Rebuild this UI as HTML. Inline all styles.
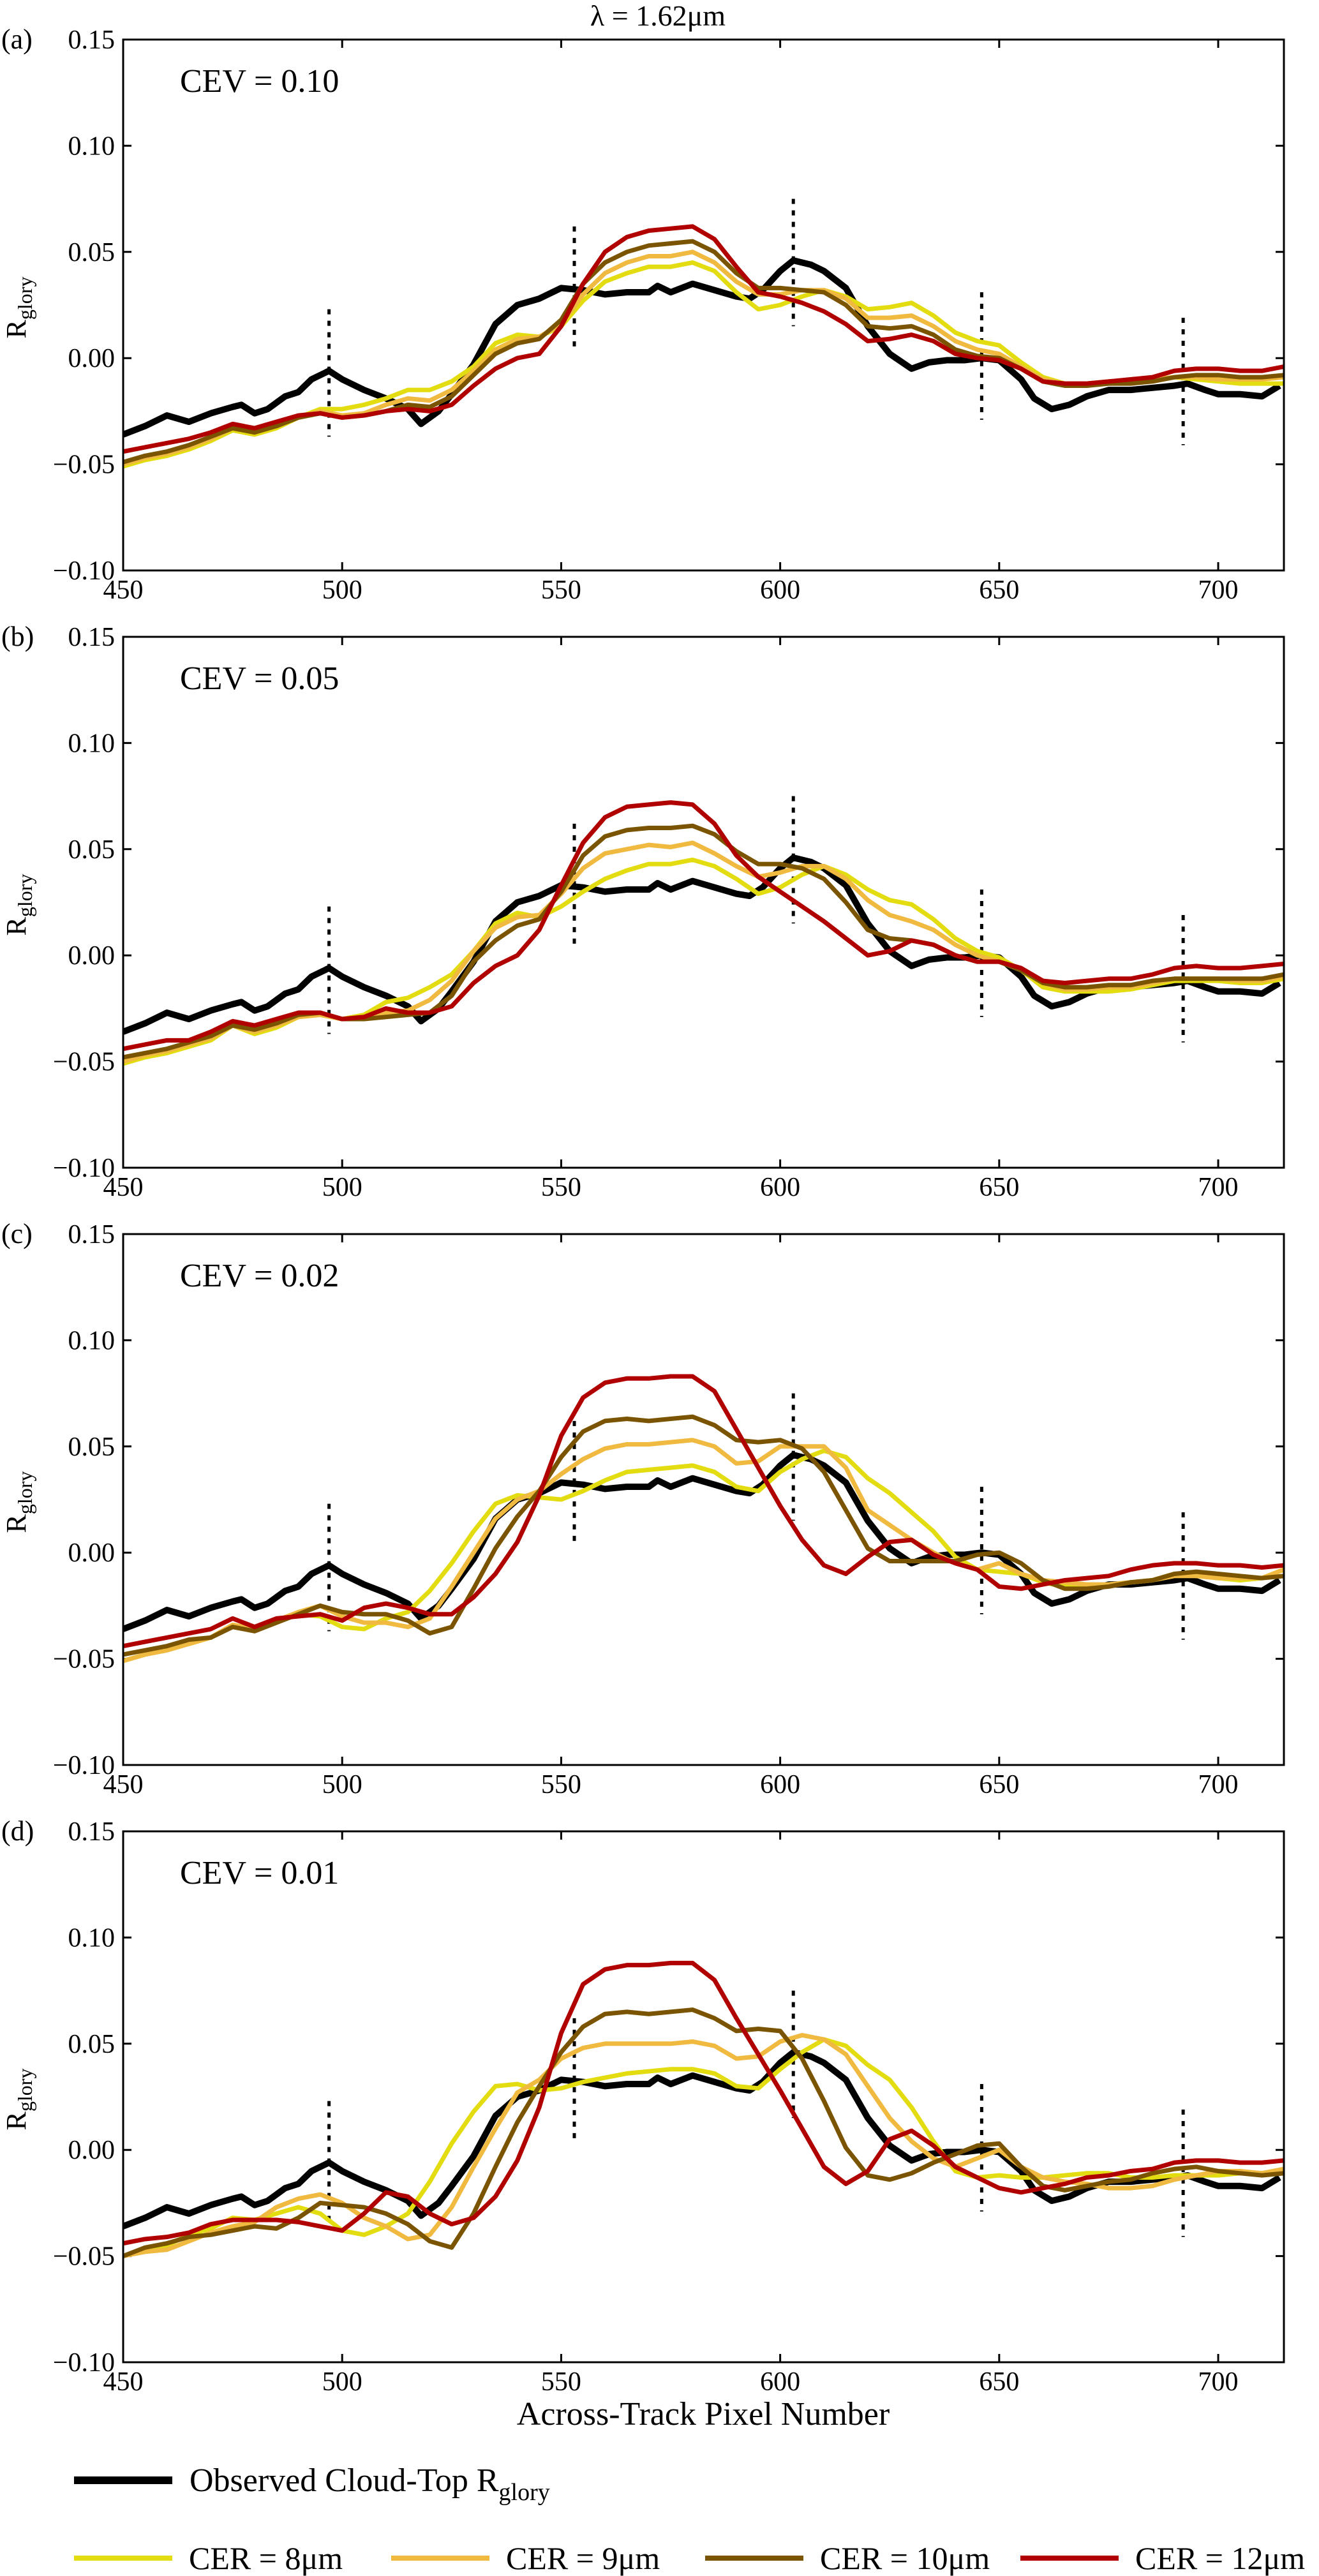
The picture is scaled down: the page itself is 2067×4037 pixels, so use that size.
<!DOCTYPE html>
<html><head><meta charset="utf-8"><style>
html,body{margin:0;padding:0;background:#fff;}
svg{display:block;font-family:"Liberation Serif",serif;}
</style></head><body>
<svg id="fig" width="2067" height="4037" viewBox="0 0 2067 4037" xmlns="http://www.w3.org/2000/svg"></svg>
<script>
const gridX = [450,455,460,465,470,475,480,485,490,495,500,505,510,515,520,525,530,535,540,545,550,555,560,565,570,575,580,585,590,595,600,605,610,615,620,625,630,635,640,645,650,655,660,665,670,675,680,685,690,695,700,705,710,715];
const obsX = [450,455,460,465,470,475,477,480,483,487,490,493,497,500,505,510,515,518,522,525,530,535,540,545,550,555,560,565,570,572,575,580,585,590,593,596,600,603,607,610,615,620,625,630,634,638,642,646,650,655,658,662,666,670,675,680,685,690,693,697,700,705,710,714];
const obsY = [-0.036,-0.032,-0.027,-0.030,-0.026,-0.023,-0.022,-0.026,-0.024,-0.018,-0.016,-0.010,-0.006,-0.010,-0.015,-0.019,-0.024,-0.031,-0.025,-0.017,-0.003,0.016,0.025,0.028,0.033,0.032,0.030,0.031,0.031,0.034,0.031,0.035,0.032,0.029,0.028,0.032,0.041,0.046,0.044,0.041,0.033,0.015,0.002,-0.005,-0.002,-0.001,-0.001,0.000,-0.001,-0.010,-0.019,-0.024,-0.022,-0.018,-0.015,-0.015,-0.014,-0.013,-0.012,-0.015,-0.017,-0.017,-0.018,-0.013];
const panelLabels = ["(a)","(b)","(c)","(d)"];
const cevValues = ["0.10","0.05","0.02","0.01"];
const cerLabels = ["8","9","10","12"];
const yTicks = [0.15,0.10,0.05,0.00,-0.05,-0.10];
const yTickLabels = ["0.15","0.10","0.05","0.00","\u22120.05","\u22120.10"];
const xTicks = [450,500,550,600,650,700];
const markerX = [497,553,603,646,692];
const markerTop = [0.023,0.062,0.075,0.031,0.019];
const markerBottom = [-0.037,0.003,0.015,-0.029,-0.041];

const aCER8 = [-.051,-.048,-.046,-.043,-.039,-.034,-.036,-.033,-.028,-.024,-.024,-.022,-.019,-.015,-.015,-.011,-.004,.007,.011,.010,.015,.027,.036,.040,.043,.043,.045,.041,.031,.023,.025,.029,.032,.029,.023,.024,.026,.020,.012,.008,.006,-.002,-.009,-.012,-.012,-.011,-.011,-.010,-.009,-.010,-.011,-.012,-.012,-.012];
const aCER9 = [-.050,-.047,-.045,-.042,-.038,-.033,-.035,-.032,-.028,-.025,-.027,-.026,-.022,-.019,-.020,-.015,-.006,.004,.009,.010,.016,.030,.040,.045,.048,.048,.050,.045,.036,.030,.030,.032,.032,.028,.019,.019,.020,.015,.008,.004,.002,-.004,-.010,-.012,-.012,-.011,-.011,-.010,-.009,-.009,-.010,-.010,-.010,-.009];
const aCER10 = [-.049,-.046,-.044,-.041,-.037,-.033,-.035,-.032,-.028,-.026,-.028,-.027,-.025,-.022,-.023,-.018,-.008,.002,.007,.009,.018,.035,.045,.050,.053,.054,.055,.050,.040,.033,.033,.032,.031,.025,.015,.014,.015,.011,.004,.001,.000,-.005,-.011,-.013,-.013,-.012,-.012,-.011,-.009,-.008,-.008,-.009,-.009,-.008];
const aCER12 = [-.044,-.042,-.040,-.038,-.035,-.031,-.033,-.030,-.027,-.026,-.028,-.027,-.025,-.024,-.025,-.022,-.013,-.005,.000,.002,.015,.035,.050,.057,.060,.061,.062,.056,.043,.031,.029,.026,.022,.016,.008,.009,.011,.008,.002,.000,-.001,-.005,-.011,-.012,-.012,-.011,-.010,-.009,-.006,-.005,-.005,-.006,-.006,-.004];
const bCER8 = [-.051,-.048,-.046,-.043,-.040,-.033,-.037,-.034,-.029,-.028,-.030,-.028,-.022,-.020,-.015,-.009,.002,.015,.020,.018,.023,.030,.036,.040,.043,.043,.045,.042,.036,.029,.032,.038,.042,.038,.031,.026,.024,.017,.008,.002,-.001,-.007,-.015,-.017,-.017,-.017,-.016,-.014,-.012,-.012,-.012,-.013,-.013,-.011];
const bCER9 = [-.050,-.047,-.045,-.042,-.039,-.033,-.036,-.033,-.029,-.028,-.030,-.029,-.027,-.026,-.021,-.012,.002,.013,.018,.019,.029,.041,.048,.050,.052,.051,.053,.048,.042,.037,.039,.042,.042,.036,.026,.019,.016,.012,.005,.000,-.003,-.007,-.013,-.016,-.016,-.015,-.015,-.013,-.011,-.011,-.011,-.012,-.012,-.010];
const bCER10 = [-.048,-.046,-.044,-.041,-.038,-.033,-.035,-.032,-.028,-.027,-.030,-.030,-.029,-.028,-.027,-.019,-.003,.007,.014,.017,.030,.047,.056,.059,.060,.060,.061,.057,.049,.043,.043,.041,.036,.025,.012,.008,.007,.005,.000,-.003,-.003,-.007,-.013,-.015,-.015,-.014,-.014,-.012,-.011,-.011,-.011,-.011,-.011,-.009];
const bCER12 = [-.044,-.042,-.040,-.040,-.036,-.031,-.033,-.030,-.027,-.027,-.030,-.029,-.025,-.027,-.027,-.024,-.013,-.005,.000,.012,.033,.053,.065,.070,.071,.072,.071,.062,.047,.037,.030,.023,.016,.008,.000,.002,.007,.005,.000,-.003,-.003,-.006,-.012,-.013,-.012,-.011,-.011,-.009,-.006,-.005,-.006,-.006,-.005,-.004];
const cCER8 = [-.051,-.048,-.045,-.043,-.040,-.034,-.036,-.032,-.029,-.030,-.035,-.036,-.031,-.028,-.018,-.005,.010,.023,.027,.026,.025,.029,.034,.038,.039,.040,.041,.038,.031,.029,.038,.044,.048,.045,.035,.028,.019,.010,-.002,-.008,-.009,-.010,-.014,-.016,-.016,-.015,-.014,-.013,-.010,-.011,-.012,-.013,-.012,-.008];
const cCER9 = [-.051,-.048,-.046,-.043,-.040,-.034,-.036,-.032,-.028,-.025,-.030,-.033,-.033,-.035,-.031,-.016,.000,.016,.025,.029,.037,.044,.049,.051,.051,.052,.053,.050,.042,.043,.050,.050,.050,.040,.020,.013,.006,.000,-.005,-.008,-.005,-.010,-.013,-.014,-.015,-.015,-.014,-.013,-.011,-.011,-.012,-.012,-.012,-.008];
const cCER10 = [-.048,-.046,-.044,-.041,-.040,-.035,-.037,-.033,-.029,-.025,-.028,-.029,-.029,-.032,-.038,-.035,-.017,.002,.017,.029,.045,.057,.062,.063,.062,.063,.064,.060,.053,.052,.053,.049,.038,.020,.002,-.004,-.004,-.004,-.004,-.001,.000,-.005,-.013,-.017,-.017,-.016,-.014,-.013,-.010,-.009,-.010,-.011,-.012,-.011];
const cCER12 = [-.044,-.042,-.040,-.038,-.036,-.031,-.035,-.031,-.030,-.029,-.032,-.026,-.024,-.026,-.029,-.029,-.021,-.010,.005,.027,.055,.073,.080,.082,.082,.083,.083,.076,.058,.040,.022,.006,-.006,-.010,-.002,.005,.006,-.001,-.005,-.008,-.016,-.017,-.015,-.013,-.012,-.011,-.008,-.006,-.005,-.005,-.006,-.006,-.007,-.006];
const dCER8 = [-.050,-.047,-.045,-.040,-.037,-.032,-.033,-.030,-.027,-.030,-.038,-.040,-.036,-.030,-.015,.003,.018,.030,.031,.028,.029,.032,.034,.036,.037,.038,.038,.036,.030,.029,.038,.046,.052,.049,.040,.033,.020,.004,-.010,-.013,-.012,-.013,-.013,-.012,-.011,-.011,-.013,-.013,-.012,-.012,-.012,-.011,-.011,-.009];
const dCER9 = [-.050,-.048,-.047,-.043,-.039,-.036,-.034,-.027,-.023,-.021,-.025,-.032,-.036,-.042,-.040,-.027,-.008,.010,.027,.033,.043,.048,.050,.050,.050,.050,.051,.049,.043,.044,.051,.054,.052,.045,.030,.015,.004,-.004,-.008,-.004,.000,-.008,-.013,-.015,-.016,-.018,-.018,-.017,-.014,-.012,-.010,-.010,-.011,-.009];
const dCER10 = [-.050,-.046,-.044,-.041,-.040,-.038,-.036,-.037,-.032,-.025,-.026,-.027,-.030,-.035,-.043,-.046,-.030,-.008,.013,.030,.046,.058,.064,.065,.064,.065,.066,.062,.056,.057,.056,.043,.023,.001,-.012,-.014,-.011,-.006,-.002,.002,.003,-.008,-.017,-.019,-.017,-.015,-.014,-.011,-.009,-.008,-.010,-.011,-.012,-.011];
const dCER12 = [-.044,-.042,-.041,-.039,-.035,-.033,-.033,-.033,-.034,-.036,-.038,-.030,-.020,-.022,-.030,-.035,-.032,-.022,-.005,.020,.055,.078,.085,.087,.087,.088,.088,.080,.062,.045,.028,.010,-.008,-.016,-.010,.005,.009,.002,-.008,-.013,-.018,-.020,-.018,-.016,-.013,-.012,-.010,-.009,-.006,-.005,-.005,-.006,-.006,-.005];

const panelSeries = [[aCER8,aCER9,aCER10,aCER12],[bCER8,bCER9,bCER10,bCER12],[cCER8,cCER9,cCER10,cCER12],[dCER8,dCER9,dCER10,dCER12]];
const colors = ["#e2dc10","#f0b940","#7a5400","#b00000"];

const NS = "http://www.w3.org/2000/svg";
const svg = document.getElementById("fig");
const L = 193, R = 2012, XMIN = 450, XMAX = 715, PH = 832, PSTEP = 936, TOP0 = 62;
function sx(v){ return L + (v - XMIN) * (R - L) / (XMAX - XMIN); }
function mk(tag, attrs, parent){ const e = document.createElementNS(NS, tag); for (const k in attrs) e.setAttribute(k, attrs[k]); (parent||svg).appendChild(e); return e; }
function txt(s, attrs, parent){ const e = mk("text", attrs, parent); e.textContent = s; return e; }

const title = txt("\u03bb = 1.62\u03bcm", {x:1031, y:40, "font-size":46, "text-anchor":"middle"});



for (let p = 0; p < 4; p++) {
  const top = TOP0 + p * PSTEP, bot = top + PH;
  const sy = v => top + (0.15 - v) * PH / 0.25;
  const g = mk("g", {});
  
  
  const clipId = "clip" + p;
  const cp = mk("clipPath", {id: clipId}, g);
  mk("rect", {x:L, y:top, width:R-L, height:PH}, cp);

  yTicks.forEach((t, i) => {
    const y = sy(t);
    const tk = mk("path", {d:`M${L},${y}h13M${R},${y}h-13`, stroke:"#000", "stroke-width":3}, g);
    
    
    const tl = txt(yTickLabels[i], {x:180, y:y+14, "font-size":42, "text-anchor":"end"}, g);
    
    
  });
  xTicks.forEach(t => {
    const x = sx(t);
    const tk = mk("path", {d:`M${x},${bot}v-13M${x},${top}v13`, stroke:"#000", "stroke-width":3}, g);
    
    
    const tl = txt(String(t), {x:x, y:bot+44, "font-size":42, "text-anchor":"middle"}, g);
    
    
  });

  markerX.forEach((m, i) => {
    const ln = mk("line", {x1:sx(m), x2:sx(m), y1:sy(markerTop[i]), y2:sy(markerBottom[i]), stroke:"#000", "stroke-width":5, "stroke-dasharray":"8 10"}, g);
    
    
  });

  const lg = mk("g", {"clip-path":`url(#${clipId})`}, g);
  const obs = mk("polyline", {points: obsX.map((x,i)=>sx(x)+","+sy(obsY[i])).join(" "), fill:"none", stroke:"#000", "stroke-width":10, "stroke-linejoin":"round"}, lg);
  
  
  panelSeries[p].forEach((ser, k) => {
    const pl = mk("polyline", {points: gridX.map((x,i)=>sx(x)+","+sy(ser[i])).join(" "), fill:"none", stroke:colors[k], "stroke-width":7, "stroke-linejoin":"round"}, lg);
    
    
  });

  const frame = mk("rect", {x:L, y:top, width:R-L, height:PH, fill:"none", stroke:"#000", "stroke-width":3}, g);
  
  

  const pl = txt(panelLabels[p], {x:2, y:top+14, "font-size":44}, g);
  
  
  const cev = txt("CEV = " + cevValues[p], {x:282, y:top+82, "font-size":52}, g);
  
  

  const cy = top + 420;
  const yl = mk("text", {x:0, y:0, "font-size":44, transform:`translate(40,${cy}) rotate(-90)`, "text-anchor":"middle"}, g);
  
  
  const t1 = mk("tspan", {}, yl); t1.textContent = "R";
  const t2 = mk("tspan", {dy:10, "font-size":32}, yl); t2.textContent = "glory";
}

const xl = txt("Across-Track Pixel Number", {x:1102, y:3800, "font-size":52, "text-anchor":"middle"});



const lo = mk("line", {x1:116, x2:270, y1:3887, y2:3887, stroke:"#000", "stroke-width":12});


const lot = mk("text", {x:297, y:3904, "font-size":52});


const lt1 = mk("tspan", {}, lot); lt1.textContent = "Observed Cloud-Top R";
const lt2 = mk("tspan", {dy:14, "font-size":38}, lot); lt2.textContent = "glory";

const legX = [116, 613, 1105, 1599];
cerLabels.forEach((c, k) => {
  const sw = mk("line", {x1:legX[k], x2:legX[k]+154, y1:4009, y2:4009, stroke:colors[k], "stroke-width":8});
  
  
  const lbl = txt("CER = " + c + "\u03bcm", {x:legX[k]+180, y:4026, "font-size":50});
  
  
});
</script>
</body></html>
